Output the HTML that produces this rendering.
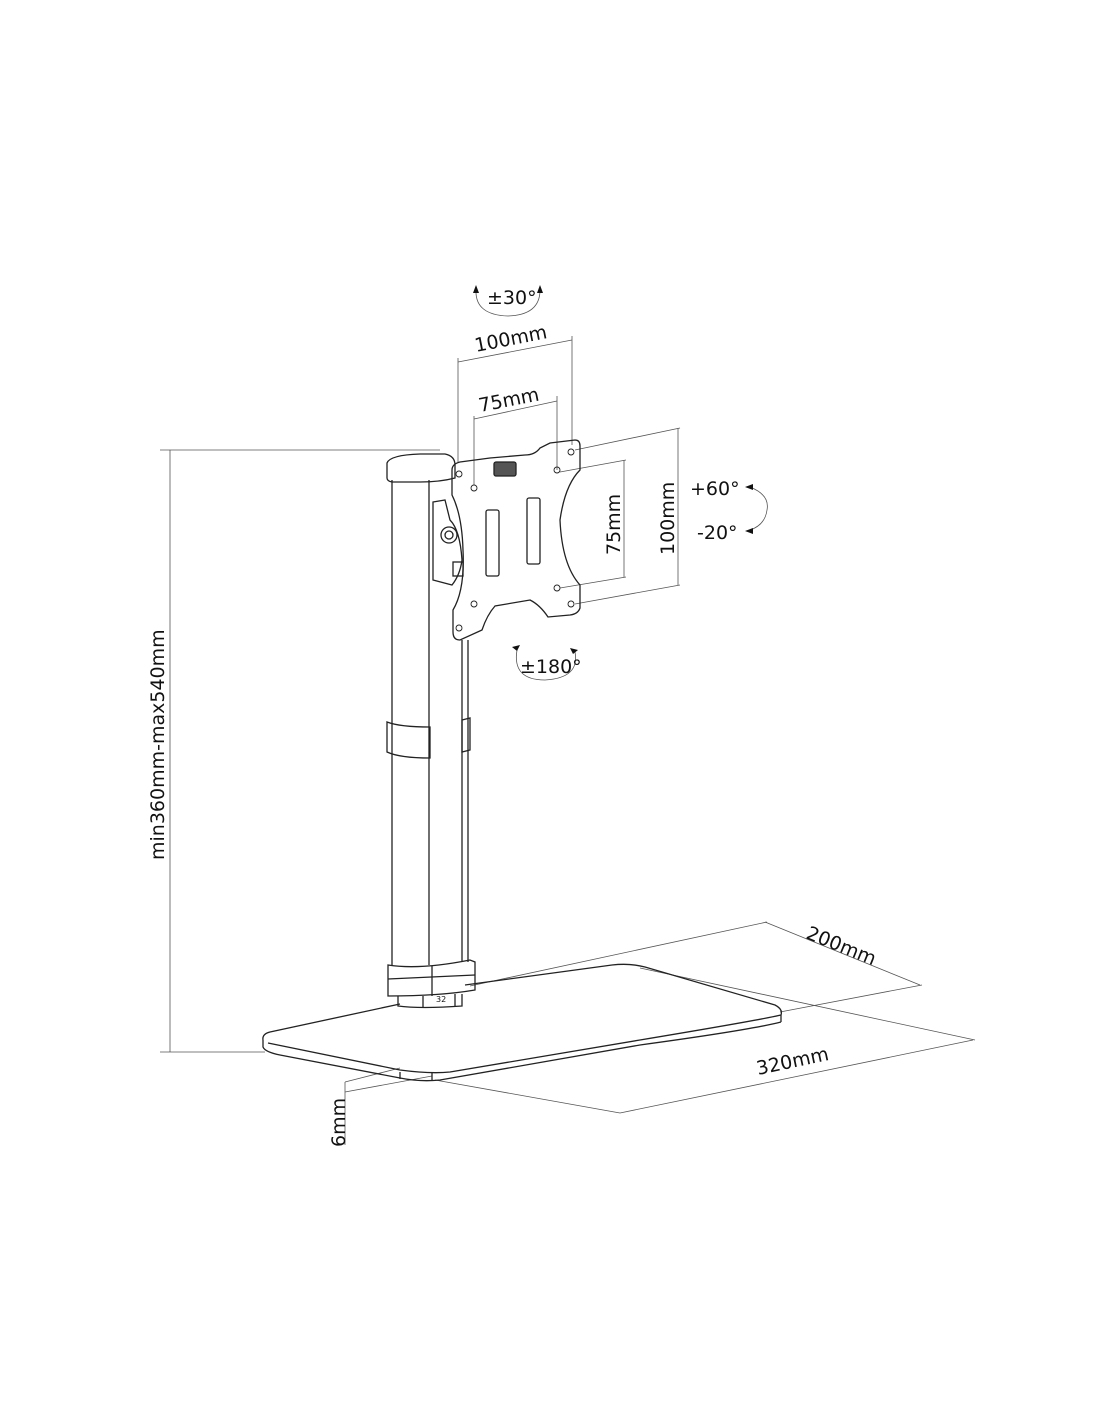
<!DOCTYPE html>
<html><head><meta charset="utf-8"><style>
html,body{margin:0;padding:0;background:#fff;}
svg{display:block}
text{font-family:"DejaVu Sans","Liberation Sans",sans-serif;fill:#111}
</style></head><body>
<svg width="1100" height="1422" viewBox="0 0 1100 1422" xmlns="http://www.w3.org/2000/svg">
<g fill="none" stroke="#222" stroke-width="1.3">
<!-- height dimension -->
<g stroke="#555" stroke-width="0.8">
<line x1="170" y1="450" x2="170" y2="1052"/>
<line x1="160" y1="450" x2="440" y2="450"/>
<line x1="160" y1="1052" x2="265" y2="1052"/>
<line x1="345" y1="1082" x2="345" y2="1145"/>
<line x1="345" y1="1082" x2="400" y2="1068"/>
<line x1="345" y1="1092" x2="432" y2="1076"/>
<line x1="458" y1="362" x2="572" y2="340"/>
<line x1="458" y1="358" x2="458" y2="462"/>
<line x1="572" y1="336" x2="572" y2="445"/>
<line x1="474" y1="419" x2="557" y2="401"/>
<line x1="474" y1="416" x2="474" y2="485"/>
<line x1="557" y1="396" x2="557" y2="470"/>
<line x1="678" y1="428" x2="678" y2="585"/>
<line x1="575" y1="450" x2="680" y2="428"/>
<line x1="575" y1="604" x2="680" y2="585"/>
<line x1="624" y1="460" x2="624" y2="577"/>
<line x1="560" y1="472" x2="626" y2="460"/>
<line x1="560" y1="588" x2="626" y2="577"/>
<line x1="765" y1="922" x2="920" y2="985"/>
<line x1="470" y1="986" x2="767" y2="922"/>
<line x1="780" y1="1012" x2="922" y2="985"/>
<line x1="620" y1="1113" x2="973" y2="1040"/>
<line x1="640" y1="968" x2="975" y2="1040"/>
<line x1="435" y1="1080" x2="620" y2="1113"/>
</g>
<path d="M263 1040 Q262 1034 270 1032 L400 1004"/>
<path d="M465 985 L612 965 Q630 963 645 967 L775 1005 Q783 1009 781 1015 L781 1022"/>
<path d="M263 1040 L263 1047 Q265 1052 280 1055 L400 1078 Q420 1082 440 1080 L640 1045 Q750 1030 781 1022"/>
<path d="M268 1043 L400 1070 Q430 1074 450 1072 L640 1040 Q760 1020 781 1015"/>
<line x1="400" y1="1072" x2="400" y2="1079"/>
<line x1="432" y1="1072" x2="432" y2="1081"/>
<line x1="392" y1="480" x2="392" y2="965"/>
<line x1="429" y1="480" x2="429" y2="965"/>
<line x1="462" y1="640" x2="462" y2="962"/>
<line x1="468" y1="640" x2="468" y2="962"/>
<path d="M387 463 Q390 455 420 454 L445 454 Q455 456 455 465 L455 478 Q440 482 420 482 L392 482 Q387 481 387 478 Z"/>
<path d="M387 722 Q400 727 430 727 L430 758 Q400 758 387 752 Z"/>
<path d="M462 720 L470 718 L470 750 L462 752 Z"/>
<path d="M388 965 Q420 970 470 960 L475 962 L475 990 Q440 996 388 996 Z"/>
<line x1="388" y1="979" x2="475" y2="975"/>
<line x1="432" y1="966" x2="432" y2="996"/>
<path d="M398 996 L398 1006 Q420 1009 462 1006 L462 994"/>
<line x1="423" y1="996" x2="423" y2="1008"/>
<line x1="455" y1="994" x2="455" y2="1007"/>
<path d="M433 502 L445 500 L450 520 Q460 530 462 560 Q460 575 452 585 L433 580 Z"/>
<circle cx="449" cy="535" r="8"/><circle cx="449" cy="535" r="4"/>
<rect x="453" y="562" width="10" height="14"/>
<path d="M452 470 Q452 464 460 462 L490 458 L525 455 Q535 455 540 448 L550 443 L575 440 Q580 440 580 446 L580 470 Q565 485 560 520 Q562 565 580 585 L580 608 Q578 614 570 615 L548 617 Q540 605 530 600 L495 606 Q487 615 482 630 L460 640 Q453 640 453 632 L453 610 Q465 590 463 550 Q462 515 452 495 Z"/>
<rect x="486" y="510" width="13" height="66" rx="2"/>
<rect x="527" y="498" width="13" height="66" rx="2"/>
<rect x="494" y="462" width="22" height="14" rx="2" fill="#555"/>
<g stroke-width="0.9">
<circle cx="459" cy="474" r="3"/><circle cx="474" cy="488" r="3"/><circle cx="557" cy="470" r="3"/><circle cx="571" cy="452" r="3"/>
<circle cx="557" cy="588" r="3"/><circle cx="571" cy="604" r="3"/><circle cx="474" cy="604" r="3"/><circle cx="459" cy="628" r="3"/>
</g>
<path d="M476 290 Q475 315 508 316 Q540 315 540 290" stroke="#555" stroke-width="0.8"/>
<path d="M517 650 Q512 680 545 680 Q580 678 575 652" stroke="#555" stroke-width="0.8"/>
<path d="M750 487 Q770 495 767 510 Q765 525 750 530" stroke="#555" stroke-width="0.8"/>
</g>
<g fill="#111">
<path d="M476 285 l-3 8 l6 0 z"/><path d="M540 285 l-3 8 l6 0 z"/>
<path d="M512 647 l8 -2 l-3 6 z"/><path d="M578 650 l-8 -2 l3 6 z"/>
<path d="M745 487 l8 -3 l0 6 z"/><path d="M745 531 l8 -3 l0 6 z"/>
</g>
<g font-size="19">
<text x="487" y="304">±30°</text>
<text x="476" y="352" transform="rotate(-11 476 352)">100mm</text>
<text x="480" y="412" transform="rotate(-11 480 412)">75mm</text>
<text x="690" y="495">+60°</text>
<text x="697" y="539">-20°</text>
<text x="520" y="673">±180°</text>
<text transform="translate(620 555) rotate(-90)">75mm</text>
<text transform="translate(674 555) rotate(-90)">100mm</text>
<text transform="translate(164 860) rotate(-90)">min360mm-max540mm</text>
<text transform="translate(345 1147) rotate(-90)">6mm</text>
<text x="805" y="938" transform="rotate(22 805 938)">200mm</text>
<text x="758" y="1075" transform="rotate(-12 758 1075)">320mm</text>
</g>
<text x="436" y="1002" font-size="8">32</text>
</svg>
</body></html>
